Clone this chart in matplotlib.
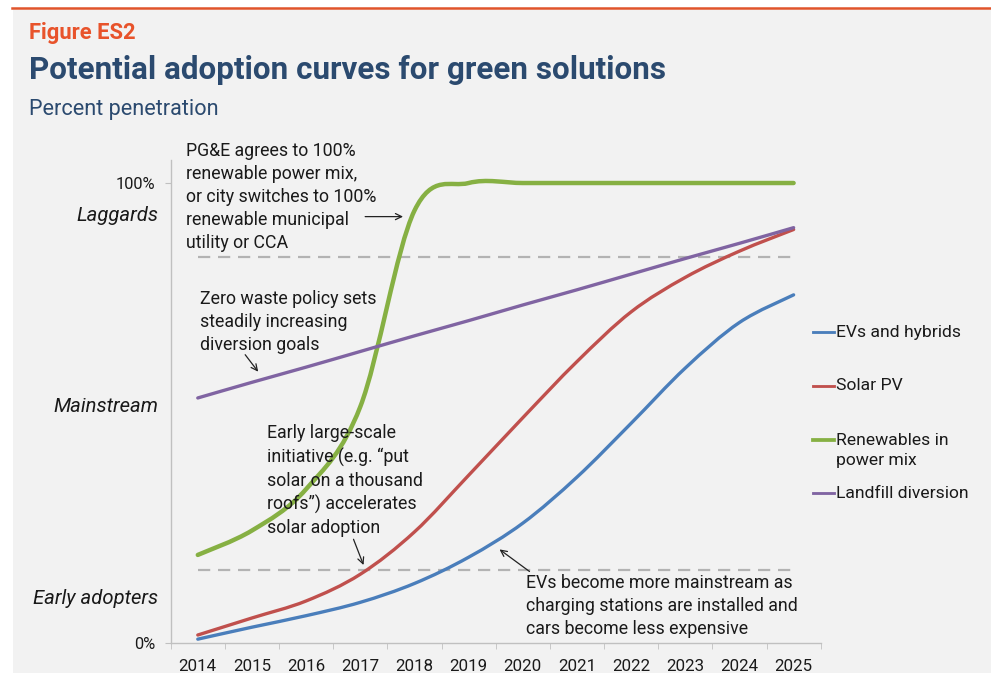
import matplotlib
matplotlib.use("Agg")
import matplotlib.pyplot as plt
from matplotlib.path import Path
from matplotlib.patches import PathPatch, Rectangle
from matplotlib.lines import Line2D

plt.rcParams['font.family'] = ['Roboto', 'DejaVu Sans']

# adoption share by year (fraction of full penetration)
years = ['2014', '2015', '2016', '2017', '2018', '2019',
         '2020', '2021', '2022', '2023', '2024', '2025']
evs = [0.009, 0.035, 0.060, 0.089, 0.130, 0.187,
       0.261, 0.361, 0.478, 0.598, 0.697, 0.757]
solar = [0.018, 0.055, 0.092, 0.150, 0.242, 0.365,
         0.490, 0.612, 0.720, 0.795, 0.852, 0.899]
renewables = [0.192, 0.245, 0.335, 0.514, 0.940, 1.000,
              1.000, 1.000, 1.000, 1.000, 1.000, 1.000]
landfill = [0.533, 0.567, 0.600, 0.634, 0.668, 0.701,
            0.735, 0.768, 0.802, 0.836, 0.869, 0.903]

series_names = ['EVs and hybrids', 'Solar PV', 'Renewables in\npower mix',
                'Landfill diversion']
series_colors = ['#4a7ebb', '#c0504d', '#86b043', '#8064a2']
series_widths = [2.4, 2.4, 3.2, 2.4]

# segment thresholds: early adopters / mainstream / laggards
thresholds = [0.16, 0.84]
segment_labels = ['Early adopters', 'Mainstream', 'Laggards']
segment_pos = [0.097, 0.514, 0.929]

W, H = 991, 673
fig = plt.figure(figsize=(W / 100, H / 100), dpi=100)
fig.patch.set_facecolor('white')

# grey panel and orange rule
fig.add_artist(Rectangle((13 / W, 0), 1, 1 - 10 / H, transform=fig.transFigure,
                         facecolor='#f2f2f2', edgecolor='none', zorder=-10))
fig.add_artist(Line2D([12 / W, 1], [1 - 8 / H] * 2, transform=fig.transFigure,
                      color='#e0542b', lw=1.8))

navy = '#2b4a6f'
fig.text(29 / W, 1 - 39 / H, 'Figure ES2', color='#e8532b', fontsize=15.8,
         fontweight='bold', va='baseline')
fig.text(29 / W, 1 - 79 / H, 'Potential adoption curves for green solutions',
         color=navy, fontsize=22.6, fontweight='bold', va='baseline')
fig.text(29 / W, 1 - 115 / H, 'Percent penetration', color=navy,
         fontsize=15.6, va='baseline')

ax = fig.add_axes([170.7 / W, 1 - 643.3 / H, 650 / W, 483.3 / H])
ax.set_facecolor('none')
ax.set_xlim(-0.5, 11.5)
ax.set_ylim(0, 1.05)
for s in ['top', 'right']:
    ax.spines[s].set_visible(False)
for s in ['left', 'bottom']:
    ax.spines[s].set_color('#c0c0c0')
    ax.spines[s].set_linewidth(1)

x = list(range(len(years)))
ax.set_xticks(x)
ax.set_xticklabels(years, fontsize=12.2)
ax.set_xticks([i - 0.5 for i in range(len(years) + 1)], minor=True)
ax.tick_params(axis='x', which='major', length=0, pad=11, colors='#1a1a1a')
ax.tick_params(axis='x', which='minor', length=4.5, color='#c0c0c0')
ax.set_yticks([0, 1])
ax.set_yticklabels(['0%', '100%'], fontsize=11.8)
ax.tick_params(axis='y', length=4.3, pad=7, color='#c0c0c0', labelcolor='#1a1a1a')

for lbl, yy in zip(segment_labels, segment_pos):
    ax.text(-0.73, yy, lbl, ha='right', va='center', fontsize=14.6,
            style='italic', color='#1a1a1a', clip_on=False)

for t in thresholds:
    ax.plot([0, 11], [t, t], color='#b3b3b3', lw=1.6, dashes=(5.5, 3.5), zorder=1)


def smooth_path(xs, ys):
    # bezier through each point, control points from neighbouring slopes
    verts = [(xs[0], ys[0])]
    codes = [Path.MOVETO]
    n = len(xs)
    for i in range(n - 1):
        i0, i3 = max(i - 1, 0), min(i + 2, n - 1)
        c1 = (xs[i] + (xs[i + 1] - xs[i0]) / 6, ys[i] + (ys[i + 1] - ys[i0]) / 6)
        c2 = (xs[i + 1] - (xs[i3] - xs[i]) / 6, ys[i + 1] - (ys[i3] - ys[i]) / 6)
        verts += [c1, c2, (xs[i + 1], ys[i + 1])]
        codes += [Path.CURVE4] * 3
    return Path(verts, codes)


for vals, c, lw in zip([evs, solar, renewables, landfill], series_colors, series_widths):
    ax.add_patch(PathPatch(smooth_path(x, vals), facecolor='none', edgecolor=c,
                           lw=lw, capstyle='round', zorder=3))

# legend drawn by hand to keep the uneven spacing
legend_y = [332, 386, 440, 493]
for name, c, lw, py in zip(series_names, series_colors, series_widths, legend_y):
    fig.add_artist(Line2D([813 / W, 834 / W], [1 - py / H] * 2, transform=fig.transFigure,
                          color=c, lw=lw * 0.85))
    # two-line labels keep the handle beside their first line
    ty = py + 10.5 if '\n' in name else py
    fig.text(836 / W, 1 - ty / H, name, fontsize=12.6, color='#1a1a1a',
             va='center', linespacing=1.38)

note_kw = dict(fontsize=12.8, color='#1a1a1a', ha='left', va='center',
               linespacing=1.36, clip_on=False)
ax.text(-0.214, 0.970, 'PG&E agrees to 100%\nrenewable power mix,\nor city switches to 100%\n'
        'renewable municipal\nutility or CCA', **note_kw)
ax.text(0.044, 0.698, 'Zero waste policy sets\nsteadily increasing\ndiversion goals', **note_kw)
ax.text(1.276, 0.353, 'Early large-scale\ninitiative (e.g. \u201cput\nsolar on a thousand\n'
        'roofs\u201d) accelerates\nsolar adoption', **note_kw)
ax.text(6.06, 0.081, 'EVs become more mainstream as\ncharging stations are installed and\n'
        'cars become less expensive', **note_kw)

arrow_kw = dict(arrowstyle='->,head_length=0.45,head_width=0.22', lw=0.9, color='#222222',
                shrinkA=0, shrinkB=0)
ax.annotate('', xy=(3.79, 0.927), xytext=(3.09, 0.927), arrowprops=arrow_kw)
ax.annotate('', xy=(1.115, 0.590), xytext=(0.875, 0.627), arrowprops=arrow_kw)
ax.annotate('', xy=(3.06, 0.170), xytext=(2.875, 0.226), arrowprops=arrow_kw)
ax.annotate('', xy=(5.57, 0.204), xytext=(6.124, 0.156), arrowprops=arrow_kw)

fig.savefig('out.png', dpi=100, facecolor=fig.get_facecolor())
